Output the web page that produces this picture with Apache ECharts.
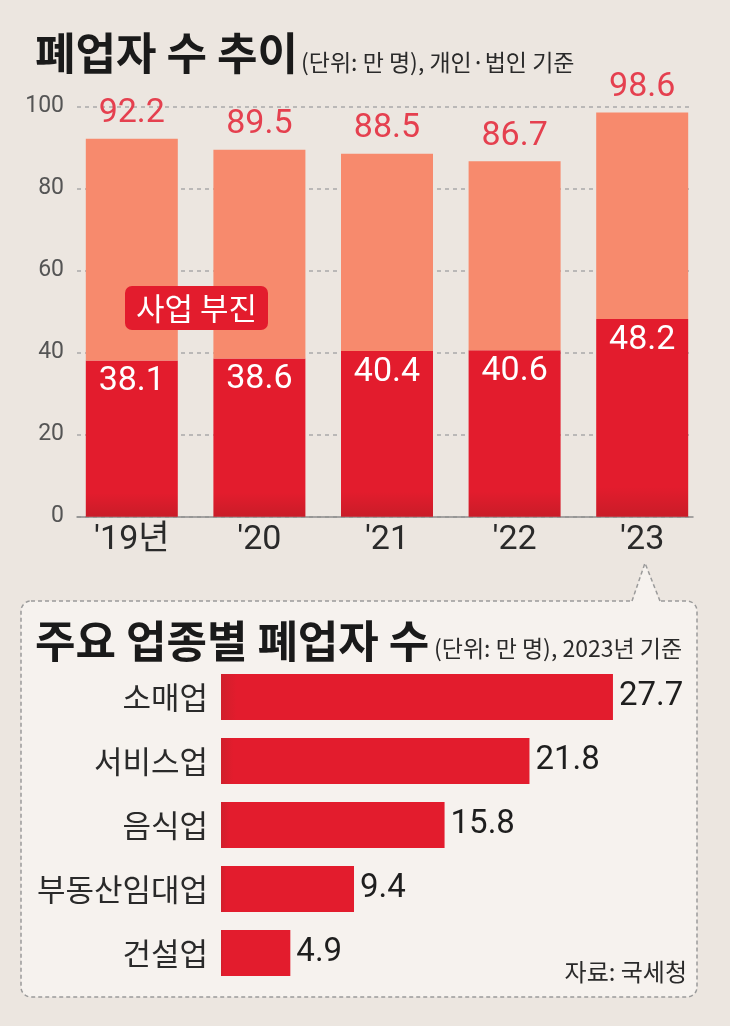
<!DOCTYPE html>
<html><head><meta charset="utf-8">
<script src="https://cdn.jsdelivr.net/npm/echarts@6/dist/echarts.min.js"></script>
<style>html,body{margin:0;padding:0;background:#ece6e0}#c{width:730px;height:1026px}</style>
</head><body><div id="c"></div>
<script>
// ---- data ----
const years = ["'19년", "'20", "'21", "'22", "'23"];
const totalClosures = [92.2, 89.5, 88.5, 86.7, 98.6];
const slumpClosures = [38.1, 38.6, 40.4, 40.6, 48.2];
const industries = ['소매업', '서비스업', '음식업', '부동산임대업', '건설업'];
const industryClosures = [27.7, 21.8, 15.8, 9.4, 4.9];

const otherClosures = totalClosures.map((t, i) => +(t - slumpClosures[i]).toFixed(1));
const NUM = "Roboto,'Noto Sans CJK KR',sans-serif";
const KR = "'Noto Sans CJK KR',sans-serif";
const RED = '#e31c2d', SALMON = '#f78a6d', PANEL = '#f6f2ee', BG = '#ece6e0';

const chart = echarts.init(document.getElementById('c'), null, {renderer: 'canvas'});
chart.setOption({
  backgroundColor: BG,
  animation: false,
  grid: [
    {left: 68, right: 24, top: 106.7, bottom: 509.3},
    {left: 77, right: 37, top: 106.7, bottom: 509.3},
    {left: 221, right: 84.5, top: 665, bottom: 41}
  ],
  xAxis: [
    {gridIndex: 0, type: 'category', data: years,
     axisLine: {show: false}, axisTick: {show: false},
     axisLabel: {color: '#2a2a2a', fontSize: 34, fontFamily: NUM, margin: 7}},
    {gridIndex: 1, type: 'value', min: 0, max: 1, show: true,
     axisLine: {show: true, lineStyle: {color: '#8c8c8c', width: 1.5}},
     axisTick: {show: false}, axisLabel: {show: false}, splitLine: {show: false}},
    {gridIndex: 2, type: 'value', min: 0, max: 30, show: false}
  ],
  yAxis: [
    {gridIndex: 0, type: 'value', min: 0, max: 100, show: false},
    {gridIndex: 1, type: 'value', min: 0, max: 100, interval: 20,
     axisLine: {show: false}, axisTick: {show: false},
     axisLabel: {color: '#555', fontSize: 23, fontFamily: NUM, margin: 13},
     splitLine: {lineStyle: {color: '#a9a9a9', width: 1.5, type: [4, 4]}}},
    {gridIndex: 2, type: 'category', data: industries, inverse: true,
     axisLine: {show: false}, axisTick: {show: false},
     axisLabel: {color: '#2a2a2a', fontSize: 31, fontFamily: KR, margin: 13}}
  ],
  series: [
    {type: 'bar', xAxisIndex: 0, yAxisIndex: 0, stack: 'y', barWidth: 92,
     data: slumpClosures,
     itemStyle: {color: new echarts.graphic.LinearGradient(0, 0, 0, 1, [
       {offset: 0, color: RED}, {offset: 0.85, color: RED}, {offset: 1, color: '#c91c28'}])},
     label: {show: true, position: 'insideTop', distance: 4, color: '#fff',
       fontSize: 34, fontFamily: NUM}},
    {type: 'bar', xAxisIndex: 0, yAxisIndex: 0, stack: 'y', barWidth: 92,
     data: otherClosures,
     itemStyle: {color: SALMON},
     label: {show: true, position: 'top', distance: 8, color: '#e5404f',
       fontSize: 34, fontFamily: NUM,
       formatter: p => totalClosures[p.dataIndex].toFixed(1)}},
    {type: 'bar', xAxisIndex: 2, yAxisIndex: 2, barWidth: 46,
     data: industryClosures,
     itemStyle: {color: new echarts.graphic.LinearGradient(0, 0, 1, 0, [
       {offset: 0, color: '#d01f2b'}, {offset: 0.04, color: RED}, {offset: 1, color: RED}])},
     label: {show: true, position: 'right', distance: 6, color: '#1e1e1e',
       fontSize: 33, fontFamily: NUM, formatter: p => p.value.toFixed(1)}}
  ],
  graphic: [
    // bottom panel
    {type: 'rect', z: -10, silent: true,
     shape: {x: 21, y: 601, width: 676, height: 396, r: 10},
     style: {fill: PANEL, stroke: '#9b9b9b', lineWidth: 1.5, lineDash: [4, 3]}},
    {type: 'polygon', z: -9, silent: true,
     shape: {points: [[632, 603], [645, 563], [660, 603]]},
     style: {fill: PANEL}},
    {type: 'polyline', z: -8, silent: true,
     shape: {points: [[632, 601], [645, 563], [660, 601]]},
     style: {fill: null, stroke: '#9b9b9b', lineWidth: 1.5, lineDash: [4, 3]}},
    // titles
    {type: 'text', silent: true, style: {text: '폐업자 수 추이', x: 35, y: 53,
      fontSize: 44, fontWeight: 'bold', fontFamily: KR, fill: '#1a1a1a', textVerticalAlign: 'middle'}},
    {type: 'text', silent: true, style: {text: '(단위: 만 명), 개인·법인 기준', x: 301, y: 62,
      fontSize: 23, fontFamily: KR, fill: '#2a2a2a', textVerticalAlign: 'middle'}},
    {type: 'text', silent: true, style: {text: '주요 업종별 폐업자 수', x: 35, y: 641,
      fontSize: 44, fontWeight: 'bold', fontFamily: KR, fill: '#1a1a1a', textVerticalAlign: 'middle'}},
    {type: 'text', silent: true, style: {text: '(단위: 만 명), 2023년 기준', x: 434, y: 648,
      fontSize: 23, fontFamily: KR, fill: '#2a2a2a', textVerticalAlign: 'middle'}},
    {type: 'text', silent: true, style: {text: '자료: 국세청', x: 687, y: 972,
      fontSize: 24, fontFamily: KR, fill: '#2a2a2a', textAlign: 'right', textVerticalAlign: 'middle'}},
    // legend tag
    {type: 'rect', z: 50, silent: true,
     shape: {x: 125, y: 286, width: 143, height: 44, r: 7},
     style: {fill: RED}},
    {type: 'text', z: 51, silent: true, style: {text: '사업 부진', x: 196.5, y: 308,
      fontSize: 31, fontFamily: KR, fill: '#fff', textAlign: 'center', textVerticalAlign: 'middle'}}
  ]
});
</script></body></html>
